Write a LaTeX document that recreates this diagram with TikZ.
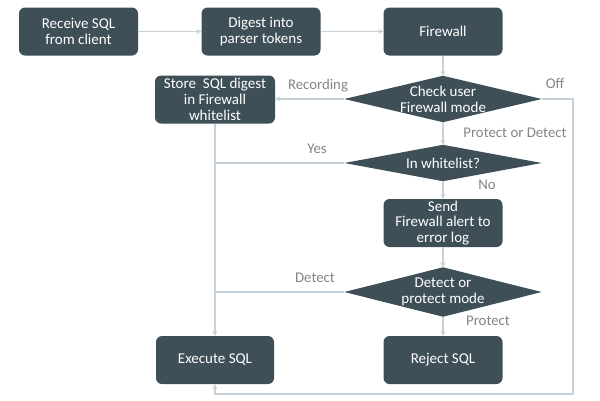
\documentclass[tikz,border=0pt]{standalone}
\usepackage{fontspec}
\setmainfont{Carlito}
\usetikzlibrary{arrows.meta,backgrounds}
\definecolor{boxfill}{HTML}{3E4F58}
\definecolor{linec}{HTML}{C6D1DA}
\definecolor{labelc}{HTML}{858585}
\begin{document}
\begin{tikzpicture}[x=1pt,y=-1pt,
  box/.style={fill=boxfill, rounded corners=6pt, text=white, align=center,
    font=\fontsize{15}{15.7}\selectfont, inner sep=0pt,
    minimum width=119pt, minimum height=48pt},
  dia/.style={inner sep=0pt, text=white, align=center,
    font=\fontsize{15}{15.7}\selectfont, minimum width=197pt},
  conn/.style={draw=linec, line width=1.3pt, -{Stealth[length=5pt,width=5pt]}},
  plain/.style={draw=linec, line width=1.3pt},
  lbl/.style={text=labelc, font=\fontsize{14.8}{16}\selectfont, inner sep=0pt}]
\useasboundingbox (0,0) rectangle (600,400);
\begin{scope}[on background layer]
  \fill[white] (0,0) rectangle (600,400);
\end{scope}

\node[box] (recv) at (78.5,31.5) {Receive SQL\\from client};
\node[box] (dig) at (261,31.5) {Digest into\\parser tokens};
\node[box] (fw) at (443,31.5) {Firewall};
\node[box, minimum width=120pt] (store) at (215,99.5) {Store\ \ SQL digest\\in Firewall\\whitelist};
\node[box] (send) at (443,223) {Send\\Firewall alert to\\error log};
\node[box, minimum width=118pt] (exec) at (215,360) {Execute SQL};
\node[box] (reject) at (443,360) {Reject SQL};

\node[dia, minimum height=46pt] (d1) at (443,99) {Check user\\Firewall mode};
\node[dia, minimum height=36pt] (d2) at (443,163) {In whitelist?};
\node[dia, minimum height=49pt] (d3) at (443,292) {Detect or\\protect mode};
\begin{scope}[on background layer]
  \foreach \d in {d1,d2,d3}
    \fill[boxfill] (\d.north) -- (\d.east) -- (\d.south) -- (\d.west) -- cycle;
\end{scope}

\coordinate (offr) at (573,394);

\draw[conn] (recv) -- (dig);
\draw[conn] (dig) -- (fw);
\draw[conn] (fw) -- (d1);
\draw[conn] (d1.west) -- (store.east |- d1.west);
\draw[conn] (d1.east) -| (offr) -| (exec.south);
\draw[conn] (store) -- (exec);
\draw[conn] (d1) -- (d2);
\draw[plain] (d2.west) -- (store.south |- d2.west);
\draw[conn] (d2) -- (send);
\draw[conn] (send) -- (d3);
\draw[plain] (d3.west) -- (store.south |- d3.west);
\draw[conn] (d3) -- (reject);

\node[lbl] (lrec) at (318,86) {Recording};
\node[lbl] (loff) at (555,83) {Off};
\node[lbl] (lpd) at (515,133) {Protect or Detect};
\node[lbl] (lyes) at (317,149) {Yes};
\node[lbl] (lno) at (487,185) {No};
\node[lbl] (ldet) at (315,278) {Detect};
\node[lbl] (lpro) at (488,321) {Protect};
\end{tikzpicture}
\end{document}
